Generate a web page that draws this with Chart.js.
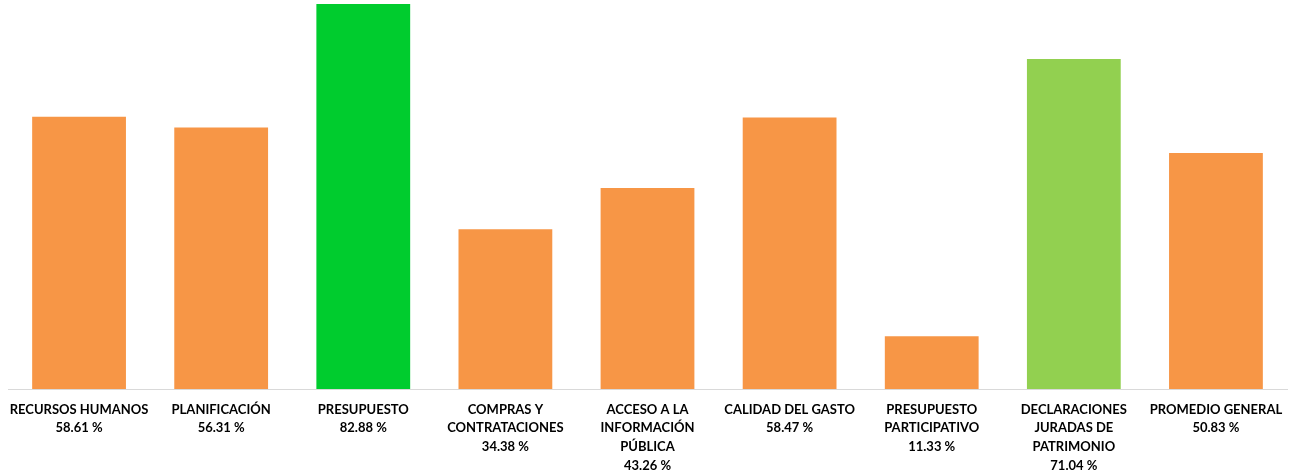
<!DOCTYPE html>
<html>
<head>
<meta charset="utf-8">
<script src="https://cdn.jsdelivr.net/npm/chart.js@4"></script>
<style>
  html, body { margin: 0; padding: 0; background: #fff; }
  #wrap { width: 1291px; height: 475px; }
</style>
</head>
<body>
<div id="wrap"><canvas id="scoreChart"></canvas></div>
<script>
// categories, split into the lines shown under each bar
const categories = [
  ['RECURSOS HUMANOS'],
  ['PLANIFICACIÓN'],
  ['PRESUPUESTO'],
  ['COMPRAS Y', 'CONTRATACIONES'],
  ['ACCESO A LA', 'INFORMACIÓN', 'PÚBLICA'],
  ['CALIDAD DEL GASTO'],
  ['PRESUPUESTO', 'PARTICIPATIVO'],
  ['DECLARACIONES', 'JURADAS DE', 'PATRIMONIO'],
  ['PROMEDIO GENERAL']
];
const scores = [58.61, 56.31, 82.88, 34.38, 43.26, 58.47, 11.33, 71.04, 50.83];
const barColors = ['#f79646', '#f79646', '#00cc2e', '#f79646', '#f79646',
                   '#f79646', '#f79646', '#92d050', '#f79646'];

const ctx = document.getElementById('scoreChart').getContext('2d');
const scoreChart = new Chart(ctx, {
  type: 'bar',
  data: {
    labels: categories.map((c, i) => c.concat([scores[i].toFixed(2) + ' %'])),
    datasets: [{
      data: scores,
      backgroundColor: barColors,
      categoryPercentage: 1,
      barPercentage: 0.66
    }]
  },
  options: {
    responsive: true,
    maintainAspectRatio: false,
    animation: false,
    layout: { padding: { left: 8, right: 4, top: 0, bottom: 0 } },
    plugins: { legend: { display: false }, tooltip: { enabled: false } },
    scales: {
      x: {
        grid: { display: false },
        border: { color: '#d9d9d9', width: 1 },
        afterFit: scale => { scale.height = 86; },
        ticks: {
          color: '#000',
          autoSkip: false,
          maxRotation: 0,
          padding: 3,
          font: { family: 'Lato', size: 13, weight: 'bold', lineHeight: 1.45 }
        }
      },
      y: { display: false, min: 0, max: 83.75 }
    }
  }
});
</script>
</body>
</html>
